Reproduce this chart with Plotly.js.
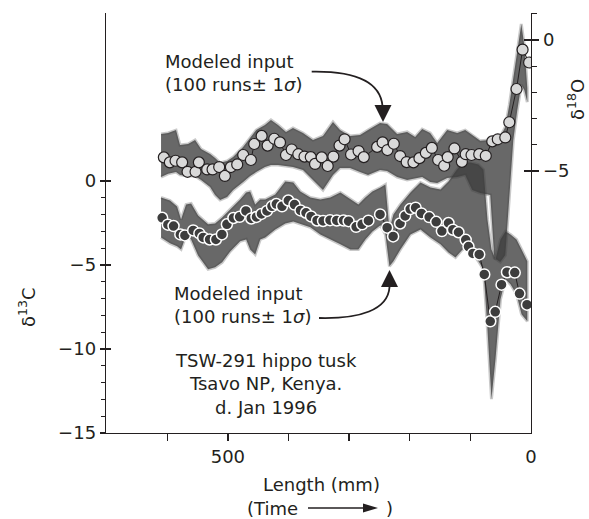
<!DOCTYPE html>
<html><head><meta charset="utf-8">
<script src="https://cdn.plot.ly/plotly-3.0.1.min.js"></script>
<style>html,body{margin:0;padding:0;background:#fff}#chart{width:589px;height:519px}</style>
</head><body><div id="chart"></div>
<script>
// ---- measured δ18O (light circles, right axis) ----
const o18Len = [605.6,595.7,586.3,575.4,566.5,553.3,547.8,534.1,525.2,514.3,504.9,495.0,484.6,474.7,462.0,456.5,444.3,434.4,423.5,414.0,404.1,394.7,383.8,373.6,363.3,356.2,345.2,335.3,326.0,315.8,307.5,296.8,284.4,275.8,253.8,244.8,236.8,226.3,215.9,205.1,193.9,184.0,173.4,163.5,153.1,143.2,137.4,126.3,114.0,107.7,98.1,85.4,74.6,63.9,54.8,42.4,35.8,23.9,13.9,3.1];
const o18Val = [-4.48,-4.67,-4.61,-4.67,-5.03,-5.03,-4.67,-4.94,-4.94,-4.85,-5.19,-4.85,-4.75,-4.39,-4.58,-3.97,-3.66,-4.03,-3.77,-3.91,-4.39,-4.18,-4.36,-4.45,-4.47,-4.73,-4.48,-4.81,-4.45,-4.03,-3.79,-4.37,-4.24,-4.47,-4.08,-3.91,-4.20,-3.96,-4.43,-4.66,-4.67,-4.51,-4.31,-4.12,-4.58,-4.80,-4.47,-4.14,-4.65,-4.36,-4.39,-4.36,-4.42,-3.87,-3.79,-3.72,-3.14,-1.87,-0.37,-0.86];

// ---- measured δ13C (dark circles, left axis) ----
const c13Len = [608.4,599.0,589.6,578.4,570.9,557.2,547.0,540.7,530.1,519.7,509.8,501.6,490.8,480.6,470.2,461.4,452.8,444.6,435.5,427.3,420.1,410.7,400.3,390.1,380.2,371.1,362.8,352.9,343.0,331.5,320.4,309.2,300.9,288.5,278.6,268.2,248.9,237.3,227.4,215.9,207.6,199.3,190.3,180.7,168.0,156.4,147.0,136.1,128.8,119.6,107.7,103.1,95.8,85.4,77.1,67.2,59.0,48.6,39.6,26.8,19.0,6.6];
const c13Val = [-2.19,-2.60,-2.68,-3.18,-3.24,-2.94,-3.12,-3.36,-3.48,-3.48,-3.18,-2.58,-2.20,-2.13,-1.78,-2.23,-2.14,-1.96,-1.78,-1.51,-1.37,-1.51,-1.16,-1.40,-1.75,-1.89,-2.11,-2.35,-2.38,-2.33,-2.35,-2.35,-2.39,-2.73,-2.58,-2.36,-1.99,-2.78,-3.30,-2.53,-2.08,-1.67,-1.59,-1.93,-2.15,-2.43,-2.98,-2.50,-2.90,-3.05,-3.50,-3.90,-4.31,-4.37,-5.56,-8.35,-7.79,-6.17,-5.43,-5.45,-6.70,-7.36];

// ---- modeled δ18O input band (100 runs ± 1σ) ----
const bandOLen = [610.2,598.6,585.5,578.9,565.6,554.1,544.2,529.3,521.1,512.8,501.2,491.3,474.8,463.2,453.3,438.8,428.9,417.3,404.1,392.6,376.1,359.6,343.1,326.6,315.0,298.5,282.0,268.8,249.0,237.4,220.8,204.3,191.1,179.5,166.3,154.7,138.2,121.7,108.5,96.9,83.7,67.2,60.6,50.7,42.4,35.8,29.2,22.6,16.0,11.1,6.1];
const bandOHi = [-3.59,-3.55,-3.44,-4.01,-3.97,-3.82,-4.16,-4.35,-4.50,-4.69,-4.62,-4.47,-4.08,-3.74,-3.44,-3.24,-3.05,-3.24,-3.51,-3.36,-3.55,-3.82,-3.66,-3.13,-3.44,-3.66,-3.63,-3.44,-3.17,-3.21,-3.59,-3.51,-3.70,-3.40,-3.55,-3.93,-3.44,-3.55,-3.44,-3.63,-3.85,-3.82,-3.82,-3.70,-3.32,-2.48,-1.45,-0.38,0.61,-0.19,-1.83];
const bandOLo = [-5.23,-5.11,-5.04,-5.15,-5.19,-5.19,-5.34,-5.61,-5.92,-6.11,-5.99,-5.73,-5.42,-5.19,-5.04,-4.85,-4.77,-4.77,-4.81,-4.85,-4.96,-5.34,-5.73,-5.15,-4.89,-4.89,-5.04,-5.15,-4.96,-5.00,-5.23,-5.34,-5.27,-5.23,-5.42,-5.46,-5.27,-5.23,-5.15,-5.73,-5.84,-5.92,-8.32,-8.47,-8.21,-6.11,-3.82,-2.67,-1.72,-1.91,-2.37];

// ---- modeled δ13C input band (100 runs ± 1σ) ----
const bandCLen = [610.2,595.4,583.8,577.2,568.9,560.6,549.1,532.6,521.0,509.4,496.2,479.7,469.8,463.2,454.9,446.6,438.3,421.8,405.3,392.1,380.5,364.0,347.5,331.0,314.4,297.9,284.7,273.2,261.6,248.4,240.1,233.5,226.9,215.4,198.8,182.3,165.8,149.3,136.1,124.5,113.0,99.8,86.7,78.4,71.8,65.2,58.6,50.3,42.1,33.8,23.9,15.6,6.1];
const bandCHi = [-0.98,-1.16,-1.52,-2.29,-1.40,-1.34,-2.05,-2.58,-2.53,-2.17,-1.69,-1.10,-0.68,-0.62,-1.40,-1.10,-1.10,-0.80,-0.03,-0.09,-0.62,-0.98,-1.10,-0.98,-0.68,-1.10,-1.40,-0.98,-0.62,-0.39,-0.21,-2.88,-1.99,-1.40,-0.68,-0.09,-0.39,-0.51,-0.03,0.56,1.10,1.10,0.98,0.68,-2.29,-4.07,-4.66,-3.48,-3.00,-3.18,-3.48,-4.07,-4.78];
const bandCLo = [-3.36,-3.71,-3.89,-4.07,-3.24,-3.48,-4.43,-5.26,-5.14,-4.84,-4.19,-3.59,-3.48,-4.07,-4.37,-3.48,-3.36,-2.88,-2.53,-2.41,-2.58,-2.76,-3.18,-3.48,-3.77,-4.07,-4.07,-3.48,-3.00,-2.64,-3.18,-5.08,-4.78,-4.07,-3.18,-2.88,-3.36,-3.77,-4.25,-4.55,-4.07,-4.07,-4.78,-5.26,-8.82,-12.98,-10.61,-7.04,-5.85,-6.15,-6.74,-7.93,-8.35];

// ---- ticks ----
const xTickVals = [500];
const xTickText = ['500'];
const xMinorVals = [600,400,300,200,100];
const xEndVals = [0];
const xEndText = ['0'];
const cTickVals = [0,-5,-10,-15];
const cTickText = ['0','\u22125','\u221210','\u221215'];
const cMinorVals = [-1,-2,-3,-4,-6,-7,-8,-9,-11,-12,-13,-14];
const oTickVals = [0,-5];
const oTickText = ['0','\u22125'];
const oMinorVals = [1,-1,-2,-3,-4];

const INK = '#231f20';
const FONT = 'DejaVu Sans, Verdana, sans-serif';
const X_RANGE = [701, 0], C_RANGE = [-15, 10], O_RANGE = [-15, 1.03];

function band(len, hi, lo, yax) {
  return {
    x: len.concat(len.slice().reverse()),
    y: hi.concat(lo.slice().reverse()),
    yaxis: yax, type: 'scatter', mode: 'lines', fill: 'toself',
    fillcolor: 'rgba(62,62,62,0.78)',
    line: {color: 'rgba(62,62,62,0.28)', width: 3, shape: 'linear'},
    hoverinfo: 'skip', showlegend: false
  };
}

const traces = [
  band(bandCLen, bandCHi, bandCLo, 'y'),
  band(bandOLen, bandOHi, bandOLo, 'y2'),
  {x: c13Len, y: c13Val, yaxis: 'y', type: 'scatter', mode: 'lines+markers',
   line: {color: INK, width: 1},
   marker: {size: 11, color: '#3d3d3d', line: {color: '#ffffff', width: 1.5}}},
  {x: o18Len, y: o18Val, yaxis: 'y2', type: 'scatter', mode: 'lines+markers',
   line: {color: INK, width: 1},
   marker: {size: 11, color: '#d9d9d9', line: {color: INK, width: 1.2}}},
  {x: [], y: [], yaxis: 'y3', type: 'scatter', mode: 'markers', hoverinfo: 'skip'},
  {x: [], y: [], yaxis: 'y4', type: 'scatter', mode: 'markers', hoverinfo: 'skip'},
  {x: [], y: [], xaxis: 'x2', yaxis: 'y', type: 'scatter', mode: 'markers', hoverinfo: 'skip'}
];

// pixel -> paper helpers for decorations (plot box 106..531 x 13..433)
const L = 106, R = 531, T = 13, B = 433;
const px = v => (v - L) / (R - L);
const py = v => (B - v) / (B - T);
const pt = (a, b) => px(a).toFixed(4) + ',' + py(b).toFixed(4);

const axisBase = {showgrid: false, zeroline: false, linecolor: INK, linewidth: 1.3,
  tickcolor: INK, tickwidth: 1.3, tickfont: {family: FONT, size: 18, color: INK}};

const layout = {
  width: 589, height: 519,
  margin: {l: L, r: 589 - R, t: T, b: 519 - B, pad: 0},
  paper_bgcolor: '#ffffff', plot_bgcolor: 'rgba(0,0,0,0)',
  showlegend: false,
  font: {family: FONT, size: 18, color: INK},
  xaxis: Object.assign({}, axisBase, {range: X_RANGE, autorange: false, tickmode: 'array',
    tickvals: xTickVals, ticktext: xTickText, ticks: 'outside', ticklen: 7, showline: true,
    minor: {tickmode: 'array', tickvals: xMinorVals, ticks: 'outside', ticklen: 7, tickcolor: INK, tickwidth: 1.3}}),
  xaxis2: Object.assign({}, axisBase, {overlaying: 'x', anchor: 'y', side: 'bottom', range: X_RANGE, autorange: false,
    tickmode: 'array', tickvals: xEndVals, ticktext: xEndText, ticks: 'outside', ticklen: 7,
    tickcolor: 'rgba(0,0,0,0)', showline: false}),
  yaxis: Object.assign({}, axisBase, {range: C_RANGE, autorange: false, tickmode: 'array',
    tickvals: cTickVals, ticktext: cTickText, ticks: 'outside', ticklen: 5, showline: true,
    minor: {tickmode: 'array', tickvals: cMinorVals, ticks: 'outside', ticklen: 4, tickcolor: INK, tickwidth: 1.2}}),
  yaxis2: Object.assign({}, axisBase, {overlaying: 'y', side: 'right', anchor: 'x', range: O_RANGE, autorange: false,
    tickmode: 'array', tickvals: oTickVals, ticktext: oTickText, ticks: 'outside', ticklen: 7, showline: true,
    minor: {tickmode: 'array', tickvals: oMinorVals, ticks: 'outside', ticklen: 5, tickcolor: INK, tickwidth: 1.2}}),
  yaxis3: Object.assign({}, axisBase, {overlaying: 'y', side: 'left', anchor: 'x', range: C_RANGE, autorange: false,
    tickmode: 'array', tickvals: cTickVals, ticks: 'inside', ticklen: 5, showticklabels: false, showline: false}),
  yaxis4: Object.assign({}, axisBase, {overlaying: 'y', side: 'right', anchor: 'x', range: O_RANGE, autorange: false,
    tickmode: 'array', tickvals: oTickVals, ticks: 'inside', ticklen: 7, showticklabels: false, showline: false}),
  annotations: [
    {xref: 'paper', yref: 'paper', x: px(163), y: py(73), xanchor: 'left', yanchor: 'middle', align: 'left',
     showarrow: false, text: 'Modeled input<br>(100 runs\u00b1 1<i>\u03c3</i>)'},
    {xref: 'paper', yref: 'paper', x: px(172), y: py(305), xanchor: 'left', yanchor: 'middle', align: 'left',
     showarrow: false, text: 'Modeled input<br>(100 runs\u00b1 1<i>\u03c3</i>)'},
    {xref: 'paper', yref: 'paper', x: px(266), y: py(384), xanchor: 'center', yanchor: 'middle', align: 'center',
     showarrow: false, text: 'TSW-291 hippo tusk<br>Tsavo NP, Kenya.<br>d. Jan 1996'},
    {xref: 'paper', yref: 'paper', x: px(321), y: py(484), xanchor: 'center', yanchor: 'middle',
     showarrow: false, text: 'Length (mm)'},
    {xref: 'paper', yref: 'paper', x: px(245), y: py(508), xanchor: 'left', yanchor: 'middle',
     showarrow: false, text: '(Time'},
    {xref: 'paper', yref: 'paper', x: px(389.5), y: py(508), xanchor: 'center', yanchor: 'middle',
     showarrow: false, text: ')'},
    {xref: 'paper', yref: 'paper', x: px(27), y: py(307), xanchor: 'center', yanchor: 'middle', textangle: -90,
     showarrow: false, text: '\u03b4<sup>13</sup>C'},
    {xref: 'paper', yref: 'paper', x: px(576), y: py(100), xanchor: 'center', yanchor: 'middle', textangle: -90,
     showarrow: false, text: '\u03b4<sup>18</sup>O'}
  ],
  shapes: [
    {type: 'path', xref: 'paper', yref: 'paper', line: {color: INK, width: 1.8},
     path: 'M' + pt(311.7, 71.7) + ' C' + pt(352, 71) + ' ' + pt(380, 80) + ' ' + pt(382.5, 106)},
    {type: 'path', xref: 'paper', yref: 'paper', line: {width: 0}, fillcolor: INK,
     path: 'M' + pt(374.5, 105) + ' L' + pt(391.5, 105) + ' L' + pt(383, 122) + ' Z'},
    {type: 'path', xref: 'paper', yref: 'paper', line: {color: INK, width: 1.8},
     path: 'M' + pt(319, 318) + ' C' + pt(360, 319) + ' ' + pt(388, 310) + ' ' + pt(389.5, 287)},
    {type: 'path', xref: 'paper', yref: 'paper', line: {width: 0}, fillcolor: INK,
     path: 'M' + pt(381, 287) + ' L' + pt(398, 287) + ' L' + pt(389.5, 270) + ' Z'},
    {type: 'line', xref: 'paper', yref: 'paper', x0: px(308), x1: px(366), y0: py(508), y1: py(508),
     line: {color: INK, width: 1.6}},
    {type: 'path', xref: 'paper', yref: 'paper', line: {width: 0}, fillcolor: INK,
     path: 'M' + pt(363, 503.5) + ' L' + pt(378, 508) + ' L' + pt(363, 512.5) + ' Z'}
  ]
};

Plotly.newPlot('chart', traces, layout, {staticPlot: true, displayModeBar: false});
</script></body></html>
